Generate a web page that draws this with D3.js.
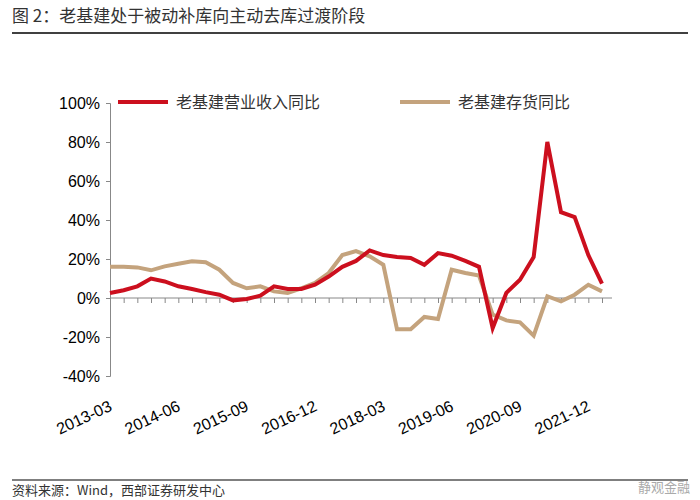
<!DOCTYPE html><html><head><meta charset="utf-8"><script src="https://cdn.jsdelivr.net/npm/d3@7"></script>
<style>body{margin:0;background:#fff}</style></head><body><svg width="700" height="500"></svg><script>
const startYear=2013, nQ=37;
const revenue=[2.6,4,6,10,8.5,6,4.6,3,1.7,-1.2,-0.5,1.2,6,4.6,4.6,6.8,11,16,19,24.4,22,21,20.5,17,23,21.7,19,16,-15.4,2.6,9.4,21,80,44,41.5,22,7.4];
const inventory=[16,16,15.7,14.2,16.2,17.6,18.8,18.3,14.5,7.7,5,6,3.4,2.6,5,7.7,12.8,22,24,21.4,17,-16,-16,-9.7,-10.8,14.5,12.8,11.5,-8.5,-11.5,-12.5,-19.3,0.9,-1.7,1.7,6.8,3.4];
const yTicks=[-40,-20,0,20,40,60,80,100];
const xLabels=["2013-03","2014-06","2015-09","2016-12","2018-03","2019-06","2020-09","2021-12"];
const dates=d3.range(nQ).map(i=>{const y=startYear+Math.floor(i/4),m=(i%4)*3+3;return y+"-"+String(m).padStart(2,"0");});
const svg=d3.select("svg");
const F="'Noto Sans CJK SC',sans-serif";
svg.append("text").attr("x",12).attr("y",22).attr("font-family",F).attr("font-size",17).attr("fill","#333").text("图 2：老基建处于被动补库向主动去库过渡阶段");
svg.append("line").attr("x1",12).attr("x2",688).attr("y1",33).attr("y2",33).attr("stroke","#000").attr("stroke-width",1.5);
svg.append("line").attr("x1",12).attr("x2",688).attr("y1",480).attr("y2",480).attr("stroke","#000").attr("stroke-width",1.2);
svg.append("text").attr("x",12).attr("y",495).attr("font-family",F).attr("font-size",13).attr("fill","#333").text("资料来源：Wind，西部证券研发中心");
svg.append("text").attr("x",690).attr("y",492).attr("text-anchor","end").attr("font-family",F).attr("font-size",13).attr("fill","#aaa").text("静观金融");
const x=d3.scalePoint().domain(dates).range([110,602]);
const y=d3.scaleLinear().domain([-40,100]).range([376,103]);
const ya=svg.append("g").attr("transform","translate(110,0)").call(d3.axisLeft(y).tickValues(yTicks).tickFormat(d=>d+"%").tickSize(4).tickPadding(6));
ya.selectAll("text").attr("font-family","Liberation Sans,Arial").attr("font-size",16).attr("fill","#000");
ya.selectAll("line,path").attr("stroke","#888");
const xa=svg.append("g").attr("transform",`translate(0,${y(0)})`).call(d3.axisBottom(x).tickSize(5).tickFormat(""));
xa.selectAll("line,path").attr("stroke","#888");
xa.select("path").attr("d",`M110,0H612`);
svg.selectAll(".xl").data(xLabels).enter().append("text").attr("font-family","Liberation Sans,Arial").attr("font-size",16)
 .attr("text-anchor","end").attr("transform",d=>`translate(${x(d)+3},${410}) rotate(-25)`).text(d=>d);
const line=d3.line().x((d,i)=>x(dates[i])).y(d=>y(d));
svg.append("path").datum(inventory).attr("d",line).attr("fill","none").attr("stroke","#c4a37d").attr("stroke-width",4);
svg.append("path").datum(revenue).attr("d",line).attr("fill","none").attr("stroke","#cc0f1e").attr("stroke-width",4);
const lg=[["老基建营业收入同比","#cc0f1e",118],["老基建存货同比","#c4a37d",400]];
lg.forEach(([t,c,lx])=>{svg.append("line").attr("x1",lx).attr("x2",lx+50).attr("y1",102).attr("y2",102).attr("stroke",c).attr("stroke-width",4);
svg.append("text").attr("x",lx+58).attr("y",108).attr("font-family",F).attr("font-size",16).attr("fill","#333").text(t);});
</script></body></html>
